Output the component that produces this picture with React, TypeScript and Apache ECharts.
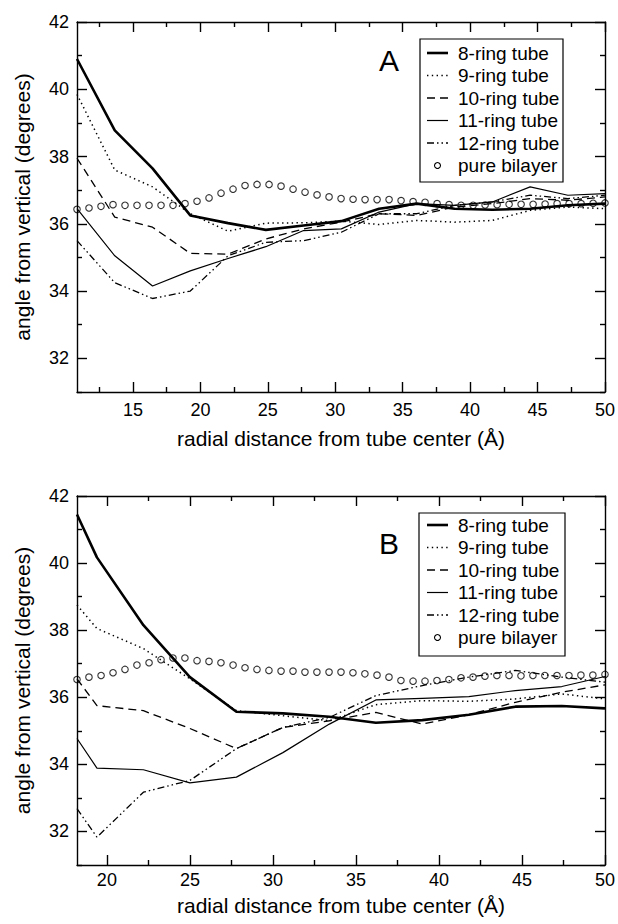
import React, { useEffect, useRef } from "react";
import * as echarts from "echarts";

const FONT = "'Liberation Sans', Arial, Helvetica, sans-serif";

const SERIES_NAMES = ["8-ring tube", "9-ring tube", "10-ring tube", "11-ring tube", "12-ring tube", "pure bilayer"];

// ---------- Panel A ----------
const A_X_TUBE = [10.85, 13.65, 16.45, 19.25, 22.05, 24.85, 27.65, 30.45, 33.25, 36.05, 38.85, 41.65, 44.45, 47.25, 50.0];
const A_RING8 = [40.9, 38.78, 37.65, 36.25, 36.02, 35.82, 35.95, 36.08, 36.45, 36.6, 36.45, 36.42, 36.45, 36.55, 36.6];
const A_RING9 = [39.85, 37.6, 37.1, 36.3, 35.78, 36.02, 36.03, 36.08, 35.98, 36.1, 36.05, 36.1, 36.4, 36.5, 36.45];
const A_RING10 = [37.95, 36.2, 35.9, 35.12, 35.1, 35.55, 35.85, 36.05, 36.3, 36.25, 36.5, 36.6, 36.75, 36.7, 36.8];
const A_RING11 = [36.45, 35.05, 34.15, 34.6, 34.97, 35.32, 35.8, 35.85, 36.35, 36.6, 36.55, 36.65, 37.1, 36.85, 36.9];
const A_RING12 = [35.5, 34.25, 33.78, 34.0, 35.05, 35.45, 35.5, 35.75, 36.3, 36.3, 36.55, 36.65, 36.85, 36.75, 36.85];
const A_X_BILAYER = [
  10.85, 11.74, 12.63, 13.52, 14.41, 15.3, 16.19, 17.08, 17.97, 18.86,
  19.75, 20.64, 21.53, 22.42, 23.31, 24.2, 25.09, 25.98, 26.87, 27.76,
  28.65, 29.54, 30.43, 31.32, 32.21, 33.1, 33.99, 34.88, 35.77, 36.66,
  37.55, 38.44, 39.33, 40.22, 41.11, 42.0, 42.89, 43.78, 44.67, 45.56,
  46.45, 47.34, 48.23, 49.12, 50.0,
];
const A_BILAYER = [
  36.43, 36.47, 36.52, 36.57, 36.55, 36.55, 36.55, 36.55, 36.55, 36.6,
  36.67, 36.77, 36.91, 37.03, 37.14, 37.17, 37.17, 37.12, 37.03, 36.94,
  36.86, 36.8, 36.75, 36.73, 36.72, 36.72, 36.72, 36.69, 36.66, 36.64,
  36.6, 36.57, 36.55, 36.55, 36.56, 36.57, 36.58, 36.58, 36.58, 36.59,
  36.6, 36.6, 36.6, 36.61, 36.62,
];

// ---------- Panel B ----------
const B_X_TUBE = [18.2, 19.4, 22.2, 25.0, 27.8, 30.6, 33.4, 36.2, 39.0, 41.8, 44.6, 47.4, 50.0];
const B_RING8 = [41.45, 40.17, 38.15, 36.6, 35.57, 35.52, 35.42, 35.24, 35.32, 35.48, 35.72, 35.74, 35.67];
const B_RING9 = [38.75, 38.05, 37.45, 36.55, 35.6, 35.45, 35.3, 35.78, 35.9, 35.88, 35.95, 36.1, 35.95];
const B_RING10 = [36.55, 35.75, 35.6, 35.07, 34.47, 35.1, 35.3, 35.55, 35.2, 35.48, 35.85, 36.15, 36.37];
const B_RING11 = [34.77, 33.89, 33.84, 33.45, 33.62, 34.35, 35.2, 35.92, 35.97, 36.02, 36.2, 36.32, 36.62];
const B_RING12 = [32.68, 31.83, 33.17, 33.52, 34.47, 35.1, 35.4, 36.05, 36.35, 36.6, 36.8, 36.6, 36.45];
const B_X_BILAYER = [
  18.2, 18.92, 19.65, 20.37, 21.09, 21.81, 22.54, 23.26, 23.98, 24.7,
  25.43, 26.15, 26.87, 27.6, 28.32, 29.04, 29.76, 30.49, 31.21, 31.93,
  32.65, 33.38, 34.1, 34.82, 35.54, 36.27, 36.99, 37.71, 38.44, 39.16,
  39.88, 40.6, 41.33, 42.05, 42.77, 43.49, 44.22, 44.94, 45.66, 46.38,
  47.11, 47.83, 48.55, 49.27, 50.0,
];
const B_BILAYER = [
  36.53, 36.6, 36.65, 36.73, 36.83, 36.96, 37.03, 37.12, 37.17, 37.17,
  37.09, 37.07, 37.03, 36.96, 36.88, 36.83, 36.8, 36.78, 36.78, 36.75,
  36.75, 36.75, 36.75, 36.73, 36.7, 36.66, 36.6, 36.5, 36.48, 36.48,
  36.5, 36.53, 36.58, 36.6, 36.63, 36.65, 36.65, 36.64, 36.65, 36.65,
  36.65, 36.65, 36.66, 36.66, 36.68,
];

// ---------- Axes ticks ----------
const Y_MIN = 31;
const Y_MAX = 42;
const Y_MAJOR = [32, 34, 36, 38, 40, 42];
const Y_MINOR = [31, 33, 35, 37, 39, 41];
const A_X_MIN = 10.85;
const A_X_MAJOR = [15, 20, 25, 30, 35, 40, 45, 50];
const A_X_MINOR = [12.5, 17.5, 22.5, 27.5, 32.5, 37.5, 42.5, 47.5];
const B_X_MIN = 18.2;
const B_X_MAJOR = [20, 25, 30, 35, 40, 45, 50];
const B_X_MINOR = [22.5, 27.5, 32.5, 37.5, 42.5, 47.5];
const X_MAX = 50;

const X_TITLE = "radial distance from tube center (Å)";
const Y_TITLE = "angle from vertical (degrees)";

// line styles per series (index matches SERIES_NAMES)
const STYLES = [
  { width: 2.6, dash: null as number[] | null },
  { width: 1.5, dash: [1.4, 3.4] },
  { width: 1.3, dash: [8, 5] },
  { width: 1.2, dash: null },
  { width: 1.3, dash: [7, 3, 1.5, 3, 1.5, 3] },
];

const BLACK = "#000";

function xAxes(grid: number, min: number, major: number[], minor: number[], nameGap: number, labelMargin: number) {
  const base = {
    type: "value",
    gridIndex: grid,
    min,
    max: X_MAX,
    splitLine: { show: false },
  };
  return [
    {
      ...base,
      position: "bottom",
      axisLine: { show: true, onZero: false, lineStyle: { color: BLACK, width: 1.4 } },
      axisTick: { show: true, inside: true, length: 10, customValues: major, lineStyle: { color: BLACK, width: 1.4 } },
      axisLabel: { show: true, customValues: major, margin: labelMargin, fontSize: 18, color: BLACK, fontFamily: FONT, showMinLabel: true, showMaxLabel: true },
      name: X_TITLE,
      nameLocation: "middle",
      nameGap,
      nameTextStyle: { fontSize: 21, color: BLACK, fontFamily: FONT },
    },
    {
      ...base,
      position: "bottom",
      axisLine: { show: false, onZero: false },
      axisTick: { show: true, inside: true, length: 5, customValues: minor, lineStyle: { color: BLACK, width: 1.4 } },
      axisLabel: { show: false },
    },
    {
      ...base,
      position: "top",
      axisLine: { show: true, onZero: false, lineStyle: { color: BLACK, width: 1.4 } },
      axisTick: { show: true, inside: true, length: 10, customValues: major, lineStyle: { color: BLACK, width: 1.4 } },
      axisLabel: { show: false },
    },
    {
      ...base,
      position: "top",
      axisLine: { show: false, onZero: false },
      axisTick: { show: true, inside: true, length: 5, customValues: minor, lineStyle: { color: BLACK, width: 1.4 } },
      axisLabel: { show: false },
    },
  ];
}

function yAxes(grid: number) {
  const base = {
    type: "value",
    gridIndex: grid,
    min: Y_MIN,
    max: Y_MAX,
    splitLine: { show: false },
  };
  return [
    {
      ...base,
      position: "left",
      axisLine: { show: true, onZero: false, lineStyle: { color: BLACK, width: 1.4 } },
      axisTick: { show: true, inside: true, length: 10, customValues: Y_MAJOR, lineStyle: { color: BLACK, width: 1.4 } },
      axisLabel: { show: true, customValues: Y_MAJOR, margin: 8, fontSize: 18, color: BLACK, fontFamily: FONT, showMinLabel: true, showMaxLabel: true },
      name: Y_TITLE,
      nameLocation: "middle",
      nameGap: 44,
      nameRotate: 90,
      nameTextStyle: { fontSize: 21, color: BLACK, fontFamily: FONT },
    },
    {
      ...base,
      position: "left",
      axisLine: { show: false, onZero: false },
      axisTick: { show: true, inside: true, length: 5, customValues: Y_MINOR, lineStyle: { color: BLACK, width: 1.4 } },
      axisLabel: { show: false },
    },
    {
      ...base,
      position: "right",
      axisLine: { show: true, onZero: false, lineStyle: { color: BLACK, width: 1.4 } },
      axisTick: { show: true, inside: true, length: 10, customValues: Y_MAJOR, lineStyle: { color: BLACK, width: 1.4 } },
      axisLabel: { show: false },
    },
    {
      ...base,
      position: "right",
      axisLine: { show: false, onZero: false },
      axisTick: { show: true, inside: true, length: 5, customValues: Y_MINOR, lineStyle: { color: BLACK, width: 1.4 } },
      axisLabel: { show: false },
    },
  ];
}

function zip(xs: number[], ys: number[]) {
  return xs.map((x, i) => [x, ys[i]]);
}

function panelSeries(axisIndex: number, xt: number[], rings: number[][], xb: number[], bilayer: number[]) {
  const out: any[] = rings.map((ys, i) => ({
    name: SERIES_NAMES[i],
    type: "line",
    xAxisIndex: axisIndex,
    yAxisIndex: axisIndex,
    data: zip(xt, ys),
    symbol: "none",
    smooth: false,
    lineStyle: { color: BLACK, width: STYLES[i].width, type: STYLES[i].dash ? STYLES[i].dash : "solid", cap: "butt" },
    z: 2,
  }));
  out.push({
    name: SERIES_NAMES[5],
    type: "scatter",
    xAxisIndex: axisIndex,
    yAxisIndex: axisIndex,
    data: zip(xb, bilayer),
    symbol: "circle",
    symbolSize: 6.5,
    itemStyle: { color: "rgba(0,0,0,0)", borderColor: BLACK, borderWidth: 1.1 },
    z: 3,
  });
  return out;
}

function legendGraphics(box: { l: number; t: number; r: number; b: number }, rows: number[]) {
  const els: any[] = [
    {
      type: "rect",
      shape: { x: box.l, y: box.t, width: box.r - box.l, height: box.b - box.t },
      style: { fill: "#fff", stroke: BLACK, lineWidth: 1.2 },
      z: 50,
    },
  ];
  rows.forEach((y, i) => {
    if (i < 5) {
      els.push({
        type: "line",
        shape: { x1: 427, y1: y, x2: 448, y2: y },
        style: { stroke: BLACK, lineWidth: STYLES[i].width, lineDash: STYLES[i].dash || undefined },
        z: 51,
      });
    } else {
      els.push({
        type: "circle",
        shape: { cx: 437.5, cy: y, r: 3 },
        style: { fill: "none", stroke: BLACK, lineWidth: 1.1 },
        z: 51,
      });
    }
    els.push({
      type: "text",
      x: 458,
      y,
      style: { text: SERIES_NAMES[i], fontSize: 19, fontFamily: FONT, fill: BLACK, align: "left", verticalAlign: "middle", textAlign: "left", textVerticalAlign: "middle" },
      z: 51,
    });
  });
  return els;
}

export default function App() {
  const ref = useRef<HTMLDivElement>(null);

  useEffect(() => {
    if (!ref.current) return;
    const chart = echarts.init(ref.current, null, { renderer: "svg" });
    const option: any = {
      animation: false,
      backgroundColor: "#fff",
      grid: [
        { left: 77, top: 22, width: 530, height: 370, show: false },
        { left: 77, top: 496, width: 528, height: 369, show: false },
      ],
      xAxis: [
        ...xAxes(0, A_X_MIN, A_X_MAJOR, A_X_MINOR, 36, 9),
        ...xAxes(1, B_X_MIN, B_X_MAJOR, B_X_MINOR, 30, 6),
      ],
      yAxis: [...yAxes(0), ...yAxes(1)],
      series: [
        ...panelSeries(0, A_X_TUBE, [A_RING8, A_RING9, A_RING10, A_RING11, A_RING12], A_X_BILAYER, A_BILAYER),
        ...panelSeries(4, B_X_TUBE, [B_RING8, B_RING9, B_RING10, B_RING11, B_RING12], B_X_BILAYER, B_BILAYER),
      ],
      graphic: [
        {
          type: "text",
          x: 389,
          y: 60,
          style: { text: "A", fontSize: 30, fontFamily: FONT, fill: BLACK, align: "center", verticalAlign: "middle", textAlign: "center", textVerticalAlign: "middle" },
          z: 50,
        },
        {
          type: "text",
          x: 389,
          y: 543,
          style: { text: "B", fontSize: 30, fontFamily: FONT, fill: BLACK, align: "center", verticalAlign: "middle", textAlign: "center", textVerticalAlign: "middle" },
          z: 50,
        },
        ...legendGraphics({ l: 420, t: 39, r: 563, b: 182 }, [53, 75.5, 98, 120.5, 143, 165.5]),
        ...legendGraphics({ l: 419, t: 513, r: 565, b: 656 }, [525, 547.5, 570, 592.5, 615, 637.5]),
      ],
    };
    chart.setOption(option);
    return () => chart.dispose();
  }, []);

  return (
    <div
      ref={ref}
      style={{ position: "absolute", left: 0, top: 0, width: 618, height: 924, background: "#fff" }}
    />
  );
}
